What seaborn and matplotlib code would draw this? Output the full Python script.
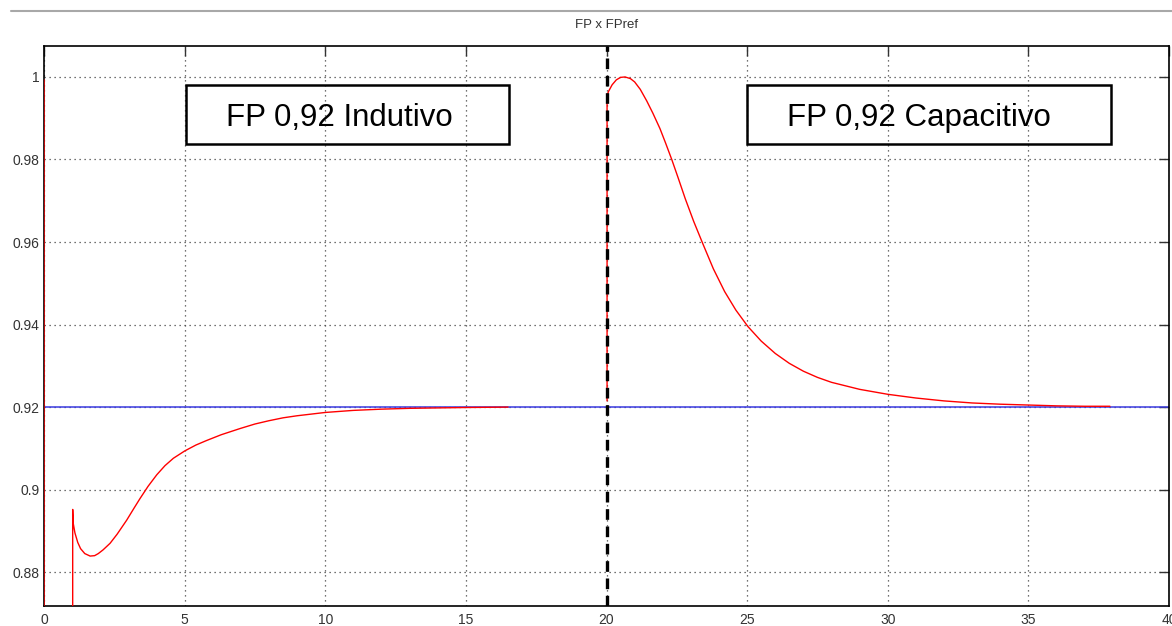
import numpy as np
import pandas as pd
import matplotlib
matplotlib.use("Agg")
import matplotlib.pyplot as plt
from matplotlib.patches import Rectangle
from matplotlib.lines import Line2D
import seaborn as sns

# ---- data ----
ind_x = [0.0, 0.0, 1.02, 1.02, 1.04, 1.10, 1.20, 1.30, 1.45, 1.64, 1.80, 1.93, 2.10,
         2.35, 2.60, 2.94, 3.20, 3.41, 3.70, 4.01, 4.30, 4.60, 5.01, 5.40, 5.78,
         6.30, 6.97, 7.50, 8.0, 8.5, 9.0, 9.5, 10.0, 11.0, 12.0, 13.0, 14.0, 15.0,
         16.5]
ind_y = [0.9993, 0.80, 0.80, 0.8952, 0.8918, 0.8895, 0.8872, 0.8857, 0.8845, 0.8839,
         0.8840, 0.8845, 0.8854, 0.8870, 0.8892, 0.8926, 0.8955, 0.8978, 0.9008,
         0.9036, 0.9058, 0.9076, 0.9094, 0.9108, 0.9119, 0.9133, 0.9148, 0.9159,
         0.9167, 0.9174, 0.9179, 0.9183, 0.9187, 0.9192, 0.9195, 0.9197, 0.9198,
         0.9199, 0.9200]

cap_x = [20.02, 20.02, 20.08, 20.2, 20.35, 20.5, 20.66, 20.85, 21.0, 21.2, 21.43,
         21.65, 21.9, 22.1, 22.32, 22.55, 22.8, 23.1, 23.43, 23.8, 24.2, 24.6,
         25.03, 25.5, 26.0, 26.5, 27.0, 27.5, 28.0, 29.0, 30.0, 31.0, 32.0, 33.0,
         34.0, 35.0, 36.0, 37.0, 37.9]
cap_y = [0.9215, 0.9956, 0.9966, 0.9981, 0.9993, 0.9999, 1.0000, 0.9996, 0.9988,
         0.9970, 0.9942, 0.9912, 0.9875, 0.9840, 0.9800, 0.9755, 0.9705, 0.9650,
         0.9595, 0.9535, 0.9480, 0.9435, 0.9395, 0.9360, 0.9330, 0.9306, 0.9287,
         0.9272, 0.9260, 0.9243, 0.9231, 0.9222, 0.9215, 0.9210, 0.9207, 0.9205,
         0.9203, 0.9202, 0.9202]

fp_ref = 0.92
switch_x = 20
x_ticks = [0, 5, 10, 15, 20, 25, 30, 35, 40]
y_ticks = [0.88, 0.90, 0.92, 0.94, 0.96, 0.98, 1.00]
y_tick_labels = ["0.88", "0.9", "0.92", "0.94", "0.96", "0.98", "1"]
title = "FP x FPref"
label_ind = "FP 0,92 Indutivo"
label_cap = "FP 0,92 Capacitivo"

df_ind = pd.DataFrame({"x": ind_x, "y": ind_y})
df_cap = pd.DataFrame({"x": cap_x, "y": cap_y})

sns.set_style("white")
plt.rcParams["font.family"] = ["Liberation Sans", "DejaVu Sans"]

fig = plt.figure(figsize=(11.72, 6.26), dpi=100)
ax = fig.add_axes([44 / 1172, 1 - 606 / 626, (1169 - 44) / 1172, (606 - 46) / 626])

ax.axhline(fp_ref, color="#3a3ae0", lw=1.1, zorder=2)
sns.lineplot(data=df_ind, x="x", y="y", sort=False, estimator=None, color="red",
             lw=1.0, ax=ax, zorder=3)
sns.lineplot(data=df_cap, x="x", y="y", sort=False, estimator=None, color="red",
             lw=1.0, ax=ax, zorder=3)
ax.axvline(switch_x, color="black", lw=2.4, ls=(0, (3.2, 2.0)), zorder=4)

ax.set_xlim(0, 40)
ax.set_ylim(0.8718, 1.0075)
ax.set_xticks(x_ticks)
ax.set_yticks(y_ticks)
ax.set_yticklabels(y_tick_labels)
ax.set_xlabel("")
ax.set_ylabel("")

ax.grid(True, color="#444444", lw=0.9, ls=(0, (1, 3)), zorder=1)
ax.tick_params(axis="both", which="both", direction="in", length=7, width=1,
               color="#333333", top=True, right=True, labelsize=10,
               labelcolor="#333333")
ax.tick_params(axis="y", pad=3.5)
ax.tick_params(axis="x", pad=5)
for s in ax.spines.values():
    s.set_color("black")
    s.set_linewidth(1.2)
    s.set_visible(True)

ax.set_title(title, fontsize=9.5, color="#333333", pad=13)

# annotation boxes
ax.add_patch(Rectangle((5.04, 0.98376), 16.55 - 5.04, 0.99806 - 0.98376,
                       fill=False, ec="black", lw=1.8, zorder=5))
ax.add_patch(Rectangle((25.01, 0.98376), 37.92 - 25.01, 0.99806 - 0.98376,
                       fill=False, ec="black", lw=1.8, zorder=5))
ax.text(10.52, 0.9882, label_ind, fontsize=22.5, ha="center", va="baseline",
        color="black", zorder=6)
ax.text(31.11, 0.9882, label_cap, fontsize=22.5, ha="center", va="baseline",
        color="black", zorder=6)

# window separator line at top
fig.add_artist(Line2D([11 / 1172, 1.0], [1 - 11 / 626, 1 - 11 / 626],
                      color="#a8a8a8", lw=1.5))

fig.savefig("out.png", dpi=100)
